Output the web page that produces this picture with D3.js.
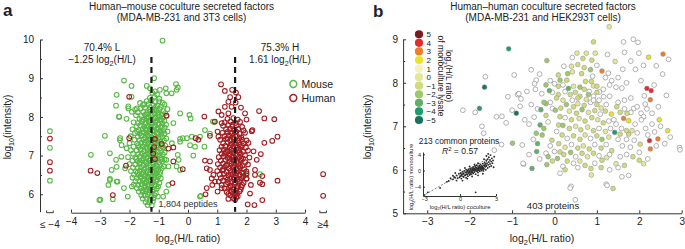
<!DOCTYPE html>
<html>
<head>
<meta charset="utf-8">
<script src="https://d3js.org/d3.v7.min.js"></script>
<style>
  body { margin: 0; background: #fff; }
  svg text { font-family: "Liberation Sans", Arial, sans-serif; fill: #222; }
  .axis path, .axis line { stroke: #333; stroke-width: 1; }
  .axis text { font-family: "Liberation Sans", Arial, sans-serif; font-size: 10px; fill: #222; }
  .inset .axis text { font-size: 5.5px; }
</style>
</head>
<body>
<div id="chart"></div>
<script>
// ---------- panel a : human-mouse coculture ----------
var titleA = ["Human\u2013mouse coculture secreted factors", "(MDA-MB-231 and 3T3 cells)"];
var xTicksA = [-4, -3, -2, -1, 0, 1, 2, 3, 4];
var yTicksA = [6, 7, 8, 9, 10];
var yMinorA = [6.5, 7.5, 8.5, 9.5];
var medians = [-1.25, 1.61];
var medianText = [["70.4% L", "\u22121.25 log", "(H/L)"], ["75.3% H", "1.61 log", "(H/L)"]];
var outLabels = ["\u2264 \u22124", "\u22654"];
var legendA = ["Mouse", "Human"];

// points outside the -4..4 range ("<= -4" and ">= 4" columns), intensity only
var mouseLow = [7.63, 7.20, 6.35];
var humanLow = [7.44, 6.83, 6.61];
var humanHigh = [6.52, 5.96];

// mouse peptides [log2(H/L), log10 intensity]
var mousePoints = [
  [-0.87,9.97],[-2.19,8.94],[-1.93,8.80],[-2.44,8.57],[-2.46,8.29],[-2.36,8.01],[-2.84,7.51],[-3.32,7.02],
  [-3.03,5.85],[-2.57,5.87],[-2.06,5.94],[-2.67,6.40],[-2.72,6.24],[-2.41,6.33],[-2.61,6.63],[-2.46,6.89],
  [-2.33,7.40],[-2.28,6.97],[-2.10,7.19],[-2.15,6.67],[-1.93,8.52],[-2.04,8.27],[-1.64,8.36],[-1.81,8.19],
  [-1.50,8.33],[-1.16,9.00],[-1.30,8.74],[-1.13,8.66],[-0.96,8.70],[-0.76,8.74],[-0.41,8.85],[-0.39,8.70],
  [-0.74,8.61],[-0.27,8.09],[-0.50,7.84],[-0.04,7.45],[-0.27,7.36],[-0.55,7.32],[-0.32,6.89],[-0.67,6.72],
  [-0.39,6.72],[-0.74,6.89],[-0.67,6.24],[-0.74,6.07],[-0.85,5.94],[0.05,8.05],[0.09,7.96],[0.13,7.49],
  [-0.18,7.45],[0.41,7.49],[0.24,7.23],[0.07,7.27],[-0.27,6.63],[0.58,7.66],[0.75,7.57],[0.85,7.88],
  [2.0,6.5],[0.41,5.94],[-0.35,8.76],[-0.27,7.43],[0.56,7.23],[-0.35,7.02],[0.18,7.0],[0.44,5.96],
  [0.9,7.87],[2.46,6.52],[-2.04,8.22],[-1.92,8.13],[-1.75,8.22],[-2.35,8.0],[-2.1,7.95],[-1.41,8.8],
  [-0.56,8.61],[-2.67,7.06],[-2.32,7.45],[-2.27,7.27],[-2.44,6.71],[-2.67,6.37],[-2.44,6.33],[-2.19,6.16],
  [-1.92,6.2],[-3.0,5.86],
  [-1.22,8.62],[-1.06,8.58],[-1.15,8.52],[-0.98,8.47],[-1.3,8.49],
  [-1.41,8.41],[-1.26,8.43],[-1.11,8.38],[-0.99,8.4],[-0.87,8.36],[-1.18,8.3],[-1.36,8.33],[-1.54,8.31],
  [-1.04,8.29],[-0.93,8.26],[-0.8,8.32],
  [-1.62,8.22],[-1.47,8.24],[-1.32,8.19],[-1.2,8.21],[-1.09,8.17],[-0.97,8.2],[-0.85,8.15],[-0.7,8.2],
  [-1.72,8.12],[-1.53,8.13],[-1.4,8.1],[-1.27,8.14],[-1.14,8.09],[-1.02,8.11],[-0.9,8.06],[-0.78,8.1],
  [-1.78,8.04],[-1.6,8.02],[-1.47,8.05],[-1.35,8.0],[-1.23,8.03],[-1.1,7.99],[-0.99,8.01],[-0.86,7.98],
  [-0.73,8.03],[-1.66,7.95],[-1.52,7.93],[-1.41,7.96],[-1.29,7.92],[-1.17,7.95],[-1.05,7.91],[-0.93,7.94],
  [-0.81,7.9],
  [-1.86,7.86],[-1.71,7.84],[-1.57,7.87],[-1.45,7.83],[-1.33,7.86],[-1.22,7.82],[-1.12,7.85],[-1.0,7.81],
  [-0.88,7.84],[-0.75,7.8],[-1.76,7.76],[-1.63,7.78],[-1.5,7.75],[-1.38,7.77],[-1.27,7.74],[-1.15,7.76],
  [-1.04,7.72],[-0.92,7.75],[-0.8,7.72],
  [-1.9,7.68],[-1.68,7.66],[-1.55,7.69],[-1.43,7.65],[-1.31,7.68],[-1.2,7.64],[-1.08,7.67],[-0.96,7.63],
  [-0.85,7.66],[-0.7,7.62],[-1.81,7.58],[-1.65,7.57],[-1.52,7.6],[-1.4,7.56],[-1.28,7.59],[-1.16,7.55],
  [-1.05,7.58],[-0.92,7.54],[-0.8,7.57],
  [-1.96,7.5],[-1.72,7.49],[-1.58,7.51],[-1.46,7.47],[-1.34,7.5],[-1.22,7.46],[-1.1,7.49],[-1.0,7.45],
  [-0.88,7.48],[-0.74,7.44],[-1.83,7.41],[-1.66,7.4],[-1.53,7.42],[-1.41,7.38],[-1.3,7.41],[-1.18,7.37],
  [-1.06,7.4],[-0.95,7.36],[-0.82,7.39],
  [-2.0,7.32],[-1.74,7.31],[-1.6,7.33],[-1.48,7.29],[-1.36,7.32],[-1.24,7.28],[-1.13,7.31],[-1.02,7.27],
  [-0.9,7.3],[-0.78,7.26],[-1.86,7.23],[-1.68,7.22],[-1.55,7.24],[-1.43,7.2],[-1.31,7.23],[-1.2,7.19],
  [-1.08,7.22],[-0.97,7.18],[-0.85,7.21],
  [-1.95,7.14],[-1.76,7.13],[-1.62,7.15],[-1.5,7.11],[-1.38,7.14],[-1.26,7.1],[-1.15,7.13],[-1.03,7.09],
  [-0.92,7.12],[-0.8,7.08],[-1.88,7.05],[-1.7,7.04],[-1.57,7.06],[-1.45,7.02],[-1.33,7.05],[-1.21,7.01],
  [-1.1,7.04],[-0.98,7.0],[-0.86,7.03],
  [-2.05,6.96],[-1.8,6.95],[-1.65,6.97],[-1.52,6.93],[-1.4,6.96],[-1.28,6.92],[-1.17,6.95],[-1.05,6.91],
  [-0.93,6.94],[-0.8,6.9],[-1.9,6.87],[-1.72,6.86],[-1.58,6.88],[-1.46,6.84],[-1.34,6.87],[-1.22,6.83],
  [-1.11,6.86],[-1.0,6.82],[-0.88,6.85],
  [-2.0,6.78],[-1.8,6.77],[-1.66,6.79],[-1.53,6.75],[-1.41,6.78],[-1.29,6.74],[-1.18,6.77],[-1.06,6.73],
  [-0.95,6.76],[-0.83,6.72],[-1.88,6.69],[-1.72,6.68],[-1.6,6.7],[-1.48,6.66],[-1.36,6.69],[-1.24,6.65],
  [-1.12,6.68],[-1.01,6.64],[-0.9,6.67],
  [-1.95,6.6],[-1.78,6.59],[-1.65,6.61],[-1.53,6.57],[-1.41,6.6],[-1.3,6.56],[-1.18,6.59],[-1.07,6.55],
  [-0.95,6.58],[-1.85,6.51],[-1.7,6.5],[-1.58,6.52],[-1.46,6.48],[-1.35,6.51],[-1.24,6.47],[-1.13,6.5],
  [-1.02,6.46],
  [-1.9,6.43],[-1.76,6.42],[-1.63,6.44],[-1.5,6.4],[-1.39,6.43],[-1.28,6.39],[-1.17,6.42],[-1.05,6.38],
  [-0.93,6.41],[-1.8,6.34],[-1.66,6.33],[-1.54,6.35],[-1.43,6.31],[-1.32,6.34],[-1.2,6.3],[-1.09,6.33],
  [-0.98,6.29],
  [-1.85,6.25],[-1.7,6.24],[-1.58,6.26],[-1.47,6.22],[-1.36,6.25],[-1.25,6.21],[-1.14,6.24],[-1.02,6.2],
  [-1.75,6.16],[-1.62,6.15],[-1.5,6.17],[-1.4,6.13],[-1.28,6.16],[-1.17,6.12],[-1.06,6.15],
  [-1.68,6.07],[-1.55,6.06],[-1.44,6.08],[-1.33,6.04],[-1.22,6.07],[-1.1,6.03],[-1.6,5.98],[-1.48,5.97],
  [-1.37,5.99],[-1.26,5.95],[-1.15,5.98],[-1.03,5.94],
  [-1.55,5.89],[-1.42,5.88],[-1.3,5.86],[-1.18,5.9],[-1.45,5.8],[-1.32,5.79],[-1.2,5.82],[-1.38,5.72],
  [-1.24,5.71],
  [-1.58,7.9],[-1.35,7.9],[-1.12,7.88],[-1.46,7.7],[-1.24,7.71],[-1.02,7.69],[-1.6,7.53],[-1.38,7.52],
  [-1.16,7.52],[-1.48,7.34],[-1.26,7.35],[-1.05,7.33],[-1.62,7.17],[-1.4,7.18],[-1.18,7.16],[-1.5,7.0],
  [-1.28,6.99],[-1.06,7.0],[-1.64,6.82],[-1.42,6.82],[-1.2,6.81],[-1.5,6.63],[-1.28,6.63],[-1.08,6.62],
  [-1.6,6.46],[-1.38,6.46],[-1.16,6.45],[-1.48,6.28],[-1.26,6.28],[-1.55,6.1],[-1.32,6.11],[-1.2,8.07],
  [-1.42,8.06],[-1.0,8.05],[-1.3,8.25],[-1.12,8.24],[-1.74,7.62],[-1.7,7.27],[-1.76,6.92],[-1.72,6.56],
  [-0.9,7.59],[-0.88,7.25],[-0.9,6.9],[-0.96,6.52],[-0.92,7.9]
];

// human peptides [log2(H/L), log10 intensity]
var humanPoints = [
  [1.13,8.84],[1.26,8.67],[1.51,8.70],[1.64,8.63],[1.44,8.51],[1.72,8.51],[1.38,8.39],[1.63,8.37],
  [1.26,8.26],[1.49,8.26],[1.81,8.24],[1.04,8.14],[1.15,8.05],[1.38,8.09],[1.95,8.09],[2.43,8.15],
  [2.61,7.96],[2.95,7.94],[0.56,8.01],[0.92,7.88],[0.75,7.51],[0.26,7.45],[0.35,7.41],[1.04,7.49],
  [2.2,7.66],[2.61,7.33],[2.88,7.38],[3.06,7.49],[2.49,7.04],[2.35,6.89],[0.58,6.87],[0.64,6.67],
  [0.75,6.85],[0.87,6.5],[0.92,6.33],[0.83,6.24],[0.64,6.16],[0.6,6.0],[2.29,6.5],[2.54,6.47],
  [2.46,6.30],[2.54,6.26],[3.06,6.35],[2.12,6.02],[2.04,5.74],[2.27,5.72],[2.54,5.85],[1.38,6.01],
  [1.67,6.01],[1.15,6.16],[1.83,6.19],[2.0,6.54],[1.15,7.84],[1.01,7.62],[2.0,7.93],[2.18,7.63],
  [2.07,7.33],[2.24,7.11],[2.29,6.63],[2.0,6.41],[2.15,6.24],[0.75,6.63],[0.81,6.41],[1.01,6.07],
  [1.49,6.07],[1.38,5.88],[1.61,5.86],
  [-2.01,8.52],[-0.74,8.03],[-2.01,7.45],[-1.13,7.43],[-0.9,7.3],[-1.16,7.22],[-0.67,7.18],[-0.5,7.21],
  [-1.19,7.05],[-1.13,6.91],[-0.5,6.85],[-2.12,6.74],[-0.18,6.65],[-3.33,6.61],[-3.1,6.55],[-0.53,6.29],
  [-2.57,5.98],
  [1.35,7.95],[1.55,7.97],[1.7,7.93],[1.25,7.86],[1.45,7.88],[1.62,7.84],[1.78,7.87],[1.2,7.77],
  [1.38,7.79],[1.52,7.75],[1.66,7.78],[1.85,7.74],[1.3,7.68],[1.44,7.7],[1.58,7.66],[1.72,7.69],
  [1.9,7.65],[1.18,7.59],[1.35,7.61],[1.5,7.57],[1.62,7.6],[1.76,7.56],[1.95,7.59],[1.25,7.5],
  [1.4,7.52],[1.54,7.48],[1.67,7.51],[1.82,7.47],[1.1,7.41],[1.3,7.43],[1.45,7.39],[1.58,7.42],
  [1.7,7.38],[1.85,7.41],[2.0,7.39],[1.2,7.32],[1.36,7.34],[1.5,7.3],[1.62,7.33],[1.75,7.29],
  [1.9,7.32],[1.15,7.23],[1.28,7.25],[1.42,7.21],[1.55,7.24],[1.67,7.2],[1.8,7.23],[1.98,7.21],
  [1.08,7.14],[1.22,7.16],[1.36,7.12],[1.49,7.15],[1.61,7.11],[1.73,7.14],[1.88,7.1],[2.05,7.13],
  [1.15,7.05],[1.3,7.07],[1.44,7.03],[1.56,7.06],[1.68,7.02],[1.8,7.05],[1.95,7.01],[1.05,6.96],
  [1.22,6.98],[1.36,6.94],[1.5,6.97],[1.62,6.93],[1.74,6.96],[1.88,6.92],[2.1,6.95],[1.12,6.87],
  [1.28,6.89],[1.42,6.85],[1.55,6.88],[1.67,6.84],[1.8,6.87],[1.96,6.83],[1.02,6.78],[1.2,6.8],
  [1.34,6.76],[1.48,6.79],[1.6,6.75],[1.72,6.78],[1.86,6.74],[2.05,6.77],[1.1,6.69],[1.26,6.71],
  [1.4,6.67],[1.53,6.7],[1.66,6.66],[1.78,6.69],[1.92,6.65],[1.0,6.6],[1.18,6.62],[1.32,6.58],
  [1.46,6.61],[1.58,6.57],[1.7,6.6],[1.84,6.56],[2.0,6.59],[1.08,6.51],[1.24,6.53],[1.38,6.49],
  [1.52,6.52],[1.64,6.48],[1.76,6.51],[1.9,6.47],[1.12,6.42],[1.3,6.44],[1.44,6.4],[1.57,6.43],
  [1.7,6.39],[1.83,6.42],[2.0,6.4],[1.05,6.33],[1.2,6.35],[1.36,6.31],[1.5,6.34],[1.62,6.3],
  [1.75,6.33],[1.9,6.29],[1.15,6.24],[1.3,6.26],[1.45,6.22],[1.58,6.25],[1.7,6.21],[1.85,6.24],
  [1.25,6.15],[1.4,6.17],[1.54,6.13],[1.66,6.16],[1.8,6.12],[1.32,6.06],[1.48,6.08],[1.62,6.04],
  [1.76,6.07],[1.45,5.97],[1.6,5.99],[1.7,5.95],[1.55,5.9],[1.65,5.92],
  [1.45,7.6],[1.65,7.62],[1.35,7.45],[1.55,7.44],[1.75,7.45],[1.45,7.27],[1.65,7.27],[1.85,7.26],
  [1.3,7.1],[1.55,7.09],[1.75,7.08],[1.42,6.92],[1.6,6.9],[1.82,6.91],[1.3,6.74],[1.55,6.73],
  [1.78,6.73],[1.45,6.55],[1.65,6.55],[1.88,6.55],[1.35,6.38],[1.58,6.38],[1.78,6.37],[1.45,6.2],
  [1.65,6.2],[1.55,6.03],[1.52,7.8],[1.4,7.0],[1.2,6.65],[1.25,7.05]
];

// ---------- panel b : human-human coculture ----------
var titleB = ["Human\u2013human coculture secreted factors", "(MDA-MB-231 and HEK293T cells)"];
var xTicksB = [-3, -2, -1, 0, 1, 2, 3];
var yTicksB = [5, 6, 7, 8, 9];
var yMinorB = [5.5, 6.5, 7.5, 8.5];
var legendValues = [5, 4, 3, 2, 1, 0, -1, -2, -3, -4, -5];
var legendColors = ["#7b1a1c", "#e42c2c", "#ef7e2c", "#ece22c", "#f5f1b8", "#e5e69c",
                    "#cfdc7c", "#9bca6a", "#62b066", "#1f9b6c", "#17735a"];

// proteins [log2(H/L) coculture, log10 intensity, log2(H/L) monoculture lysate or null]
var proteins = [
  [1.29,9.29,0],[0.92,8.94,-1],[-1.08,8.78,-4],[0.53,8.68,0],[0.75,8.68,0],[0.96,8.68,0],[-0.18,8.51,-2],
  [0.67,8.56,-1],[0.88,8.52,-1],[1.43,8.49,0],[2.22,8.59,2],[2.56,8.66,3],[1.12,8.27,3],[0.09,8.18,-1],
  [0.31,8.21,-2],[0.42,8.25,0],[0.64,8.21,-1],[0.73,8.03,-1],[0.87,8.03,-1],[0.92,7.93,0],[1.0,7.92,-1],
  [0.6,7.9,-2],[0.49,7.78,-1],[0.13,8.06,-2],[0.29,8.06,-1],[0.09,7.92,-1],[0.33,7.87,-3],[0.37,7.73,-1],
  [0.6,7.69,-1],[0.8,7.73,-2],[-0.12,7.82,-3],[0.09,7.73,-1],[-1.65,7.90,-5],[-1.77,7.41,-4],[-0.9,7.30,-5],
  [-0.32,7.38,-3],[0.02,7.37,-2],[0.13,7.22,-1],[1.47,7.45,-1],[1.71,7.3,-1],[2.18,7.87,4],[2.28,7.82,4],
  [2.26,7.61,3],[2.47,7.15,2],[2.67,6.90,2],[2.44,6.71,3],[2.24,6.67,4],[2.26,6.48,3],[1.34,7.28,2],
  [1.63,7.18,3],[1.75,7.13,2],[1.42,6.86,-4],[1.75,6.82,-1],[1.83,6.90,0],[2.02,6.59,-1],[2.0,6.22,-1],
  [2.1,6.14,0],[1.23,6.28,0],[1.35,6.44,-1],[1.45,6.14,0],[1.12,6.22,-1],[0.86,6.03,-1],[0.87,5.88,0],
  [1.38,5.57,-1],[-0.99,6.61,-2],[-0.53,6.03,-3],[-0.43,6.84,-2],[-0.34,7.03,-3],[-0.2,7.52,-2],
  [0.1,7.03,-1],[-0.06,6.68,-1],[0.07,6.26,-2],[0.13,6.41,-1],[-0.42,6.42,-3],[-0.18,6.12,-2],
  [-0.29,6.8,-2],[0.25,6.0,-1],
  [1.63,8.94,null],[1.86,9.0,null],[1.97,8.93,null],[1.99,8.68,null],[2.69,8.54,null],[2.4,8.39,null],
  [1.91,8.31,null],[1.61,8.31,null],[0.42,8.58,null],[-1.63,8.14,null],[-0.95,8.18,null],[-0.43,8.06,null],
  [-0.47,7.98,null],[-1.1,7.68,null],[-0.87,7.73,null],[-0.79,7.63,null],[-1.0,7.37,null],[-2.16,7.37,null],
  [-1.87,7.32,null],[-1.37,7.22,null],[-1.24,7.23,null],[-0.48,7.21,null],[-0.05,7.41,null],[0.42,7.6,null],
  [0.92,7.69,null],[1.06,7.79,null],[1.3,7.69,null],[2.04,8.05,null],[2.12,7.7,null],[2.64,7.71,null],
  [1.87,7.41,null],[2.04,7.3,null],[1.27,8.22,null],[1.59,7.88,null],[2.14,7.51,null],[2.18,7.4,null],
  [2.1,7.22,null],[2.36,6.87,null],[2.73,6.75,null],[2.95,6.51,null],[1.88,6.68,null],[1.79,6.52,null],
  [1.75,5.87,null],[1.22,5.67,null],[0.39,5.62,null],[1.16,7.68,null],[-1.71,7.0,null],[-1.67,6.84,null],
  [-0.84,7.75,null],[-0.81,7.46,null],[-1.14,7.08,null],[-0.73,6.13,null],[-1.25,6.58,null],
  [-1.42,6.45,null],[-0.74,6.15,null],[-0.76,6.57,null],[0.13,5.92,null],[0.37,5.58,null],[0.49,5.31,null],
  [1.24,5.64,null],[1.59,5.84,null],[2.96,6.46,null],
  [0.05,7.65,-1],[0.2,7.6,0],[0.28,7.5,-2],[0.45,7.45,-1],[0.55,7.52,0],[0.7,7.48,-1],[0.85,7.55,null],
  [1.0,7.5,-1],[1.1,7.42,0],[1.22,7.5,null],[-0.1,7.55,null],[0.15,7.42,-1],[0.35,7.35,0],[0.52,7.3,-1],
  [0.65,7.38,-2],[0.8,7.32,0],[0.95,7.36,-1],[1.08,7.28,null],[1.2,7.35,-1],[-0.2,7.25,-1],[0.25,7.2,null],
  [0.4,7.15,-1],[0.58,7.18,0],[0.72,7.12,-1],[0.88,7.2,-1],[1.02,7.15,0],[1.15,7.08,-1],[1.28,7.12,null],
  [1.45,7.05,null],[-0.15,7.1,null],[0.2,7.02,-2],[0.35,6.95,-1],[0.5,7.0,0],[0.62,6.92,-1],[0.78,6.98,0],
  [0.92,6.9,-1],[1.05,6.95,null],[1.2,6.88,0],[1.32,6.95,null],[-0.25,6.95,-2],[0.05,6.88,null],
  [0.18,6.8,-1],[0.3,6.72,null],[0.45,6.78,-1],[0.6,6.7,-1],[0.72,6.8,0],[0.85,6.72,null],[1.0,6.78,-1],
  [1.12,6.7,-2],[1.28,6.75,0],[1.5,6.7,null],[1.6,6.55,null],[-0.1,6.55,null],[0.1,6.6,-1],[0.25,6.52,0],
  [0.4,6.58,null],[0.55,6.5,-1],[0.68,6.55,0],[0.82,6.48,-1],[0.95,6.58,null],[1.1,6.5,-1],[1.22,6.58,null],
  [-0.2,6.38,null],[0.0,6.42,null],[0.22,6.35,-1],[0.38,6.4,-2],[0.5,6.3,null],[0.65,6.38,-1],[0.78,6.3,0],
  [0.92,6.38,-1],[1.05,6.32,null],[1.3,6.35,null],[0.3,6.2,-1],[0.45,6.15,null],[0.6,6.2,0],[0.72,6.1,-1],
  [0.95,6.15,null],[1.55,6.3,null],[0.55,6.05,null],[0.2,6.08,null],
  [0.0,7.98,null],[0.2,7.95,null],[0.45,7.92,0],[0.7,7.85,-1],[0.82,7.8,null],[1.0,7.78,-1],[1.15,7.85,null],
  [0.25,7.8,null],[-0.05,7.78,null],[0.55,7.65,-1],[0.75,7.62,0],[0.92,7.6,null],[1.05,7.6,null],
  [0.4,8.38,0],[0.55,8.42,-1],[0.7,8.35,-1],[0.22,8.38,null],[0.85,8.3,-2],[1.0,8.4,null],[0.9,8.15,null],
  [1.2,8.12,null],[1.35,8.05,null],[1.5,8.12,null],[1.7,8.0,null],[1.45,7.9,null],[1.3,7.95,null],
  [1.5,7.55,null],[1.65,7.6,null],[1.8,7.65,null],[1.65,7.4,null],[1.55,7.32,-1],[1.8,7.32,null],
  [1.95,7.45,null],[1.4,7.15,null],[1.9,7.05,null],[2.05,7.15,null],[1.58,6.95,null],[1.7,6.9,-1],
  [1.95,6.85,null],[2.15,6.95,null],[1.55,6.82,-1],[1.7,6.7,null],[2.2,6.8,null],[2.3,7.05,null],
  [2.5,7.0,null],[2.4,6.55,null],[2.6,6.6,null],[2.0,6.4,null],[1.85,6.3,-1],[1.7,6.35,null],
  [1.5,6.05,null],[1.65,6.1,-1],[1.3,6.0,null],[1.1,6.05,-1],[2.2,6.25,null],[2.3,7.3,null],
  [2.45,7.45,null],[2.35,7.95,null],[2.55,8.2,null],[2.1,8.4,null],[1.8,8.5,null],[1.65,8.7,null],
  [1.25,8.65,null],
  [-0.3,7.75,null],[-0.25,7.55,-2],[-0.4,7.4,null],[-0.55,7.5,null],[-0.6,7.05,null],[-0.4,6.6,-3],
  [-0.5,6.7,null],[-0.35,6.25,null],[-0.15,6.3,-2],[-0.05,6.2,-1],[-0.6,6.35,null],[-0.45,7.85,null],
  [-0.65,7.8,null],[-0.2,7.95,-2],[-0.35,8.2,null],[-0.1,8.05,null],[-0.55,8.3,null],[-0.7,7.15,null]
];

// inset: 213 common proteins [coculture, monoculture]
var insetTicks = [-3, 0, 3];
var insetYTicks = [-4, 0, 4];
var insetFit = [[-2.9, -5.9], [2.4, 3.1]];
var common = [
  [-2.7,-5.4],[-1.67,-4.3],[-1.1,-2.8],[-0.95,-2.6],[1.3,-5.4],[-0.6,-2.2],[-0.4,-1.8],[-0.3,-2.5],
  [-0.5,-1.6],[-0.3,-1.2],[-0.2,-1.9],[-0.1,-0.8],[0.0,-1.4],[0.05,-0.6],[0.1,-2.0],[0.15,-1.0],
  [0.2,-0.3],[0.25,-1.5],[0.3,-0.8],[0.35,-0.1],[0.4,-1.2],[0.45,-0.5],[0.5,-1.8],[0.5,0.2],
  [0.55,-0.9],[0.6,-0.3],[0.65,-1.4],[0.7,0.3],[0.7,-0.7],[0.75,-0.1],[0.8,-1.1],[0.85,0.5],
  [0.9,-0.4],[0.9,0.1],[0.95,-0.9],[1.0,0.6],[1.0,-0.2],[1.05,0.2],[1.1,-0.7],[1.1,0.9],
  [1.15,0.0],[1.2,0.5],[1.2,-0.4],[1.25,1.1],[1.3,0.2],[1.3,-0.9],[1.35,0.7],[1.4,-0.2],
  [1.4,1.3],[1.45,0.4],[1.5,0.9],[1.5,-0.5],[1.55,0.1],[1.6,1.2],[1.6,0.6],[1.65,-0.2],
  [1.7,1.5],[1.7,0.3],[1.75,0.9],[1.8,0.0],[1.8,1.2],[1.85,0.5],[1.9,1.7],[1.9,0.8],
  [1.95,-0.1],[2.0,1.3],[2.0,0.4],[2.05,2.0],[2.1,0.9],[2.1,1.6],[2.15,0.2],[2.2,2.4],
  [2.2,1.1],[2.25,1.8],[2.3,0.6],[2.3,2.8],[2.35,1.4],[2.4,2.1],[2.4,3.3],[2.45,0.9],
  [2.5,2.6],[2.5,1.6],[2.55,3.8],[2.6,2.2],[2.6,1.1],[2.65,3.0],[2.7,1.8],[2.75,2.5],
  [2.8,0.8],[2.85,3.4],[2.2,3.6],[2.35,4.1],[2.0,2.8],[1.5,1.8],[1.2,1.5],[0.8,1.0],
  [0.4,0.6],[0.0,0.1],[-0.4,-0.6],[0.2,-2.5],[0.6,-2.0],[1.0,-1.5],[1.5,-1.2],[1.9,-0.8],
  [0.3,-1.6],[0.45,-1.1],[0.6,-1.0],[0.75,-0.5],[0.85,-0.8],[0.95,-0.3],[1.05,-0.5],[1.15,0.3],
  [1.25,-0.1],[1.35,0.4],[1.45,0.0],[1.55,0.6],[1.65,0.9],[1.75,0.4],[1.85,1.0],[1.95,0.6],
  [2.05,1.1],[2.15,1.4],[0.55,-0.4],[0.65,0.0],[0.8,-0.2],[0.9,0.4],[1.0,0.1],[1.1,0.5],
  [1.2,0.2],[1.3,0.8],[1.4,0.5],[1.5,0.3],[1.6,0.1],[1.7,0.7],[1.8,0.6],[1.9,0.3],
  [0.1,-1.3],[0.2,-0.9],[-0.05,-1.7],[-0.6,-1.3],[-0.8,-1.9]
];

var green = "#59b847", red = "#a11d22";
var lowPos = -4.72, highPos = 4.62;   // scale positions of the out-of-range columns
var intFmt = d3.format("d");

document.addEventListener('DOMContentLoaded', function () {

var svg = d3.select("#chart")
  .append("svg")
    .attr("width", 685)
    .attr("height", 249);

// writes "log" + subscript + rest into a text element
function logText(t, sub, rest, fs) {
  t.append("tspan").text("log");
  t.append("tspan").attr("dy", fs * 0.3).style("font-size", (fs * 0.72) + "px").text(sub);
  t.append("tspan").attr("dy", -fs * 0.3).text(rest);
}

// ===================== panel a =====================
var xA = d3.scaleLinear().domain([-4, 4]).range([71, 305]);
var yA = d3.scaleLinear().domain([5.55, 10]).range([211.7, 39.5]);

svg.append("text").attr("x", 3).attr("y", 16)
  .style("font-size", "17px").style("font-weight", "bold").text("a");

svg.selectAll("titleA")
  .data(titleA)
  .join("text")
    .attr("x", 181.5)
    .attr("y", function(d, i) { return 9.5 + i * 11; })
    .attr("text-anchor", "middle")
    .style("font-size", "10px")
    .text(function(d) { return d; });

svg.append("g")
  .attr("class", "axis")
  .attr("transform", "translate(40,0)")
  .call(d3.axisLeft(yA).tickValues(yTicksA).tickFormat(intFmt).tickSize(-3).tickSizeOuter(0).tickPadding(6));
svg.append("g")
  .attr("class", "axis")
  .attr("transform", "translate(40,0)")
  .call(d3.axisLeft(yA).tickValues(yMinorA).tickSize(-2).tickFormat(""))
  .call(function(g) { g.select(".domain").remove(); });

svg.append("g")
  .attr("class", "axis")
  .attr("transform", "translate(0,212.7)")
  .call(d3.axisBottom(xA).tickValues(xTicksA).tickFormat(intFmt).tickSize(-3).tickSizeOuter(0).tickPadding(5));

// brackets for the out-of-range columns
[lowPos, highPos].forEach(function(p, i) {
  var cx = xA(p);
  svg.append("path")
    .attr("d", "M" + (cx - 3.3) + ",210.5V212.7H" + (cx + 3.3) + "V210.5")
    .attr("fill", "none").attr("stroke", "#333");
  svg.append("text")
    .attr("x", cx).attr("y", 227.5)
    .attr("text-anchor", "middle")
    .style("font-size", "10px")
    .text(outLabels[i]);
});

var yt = svg.append("text")
  .attr("transform", "translate(10.5,127) rotate(-90)")
  .attr("text-anchor", "middle")
  .style("font-size", "10px");
logText(yt, "10", "(intensity)", 10);

var xt = svg.append("text")
  .attr("x", 188).attr("y", 242)
  .attr("text-anchor", "middle")
  .style("font-size", "10.5px");
logText(xt, "2", "(H/L ratio)", 10.5);

// scatter
var rA = 2.35, swA = 1.05;
var dotsA = svg.append("g");
dotsA.selectAll("mouse")
  .data(mousePoints)
  .join("circle")
    .attr("cx", function(d) { return xA(d[0]); })
    .attr("cy", function(d) { return yA(d[1]); })
    .attr("r", rA)
    .attr("fill", "none")
    .attr("stroke", green)
    .attr("stroke-width", swA);
dotsA.selectAll("mouseLow")
  .data(mouseLow)
  .join("circle")
    .attr("cx", xA(lowPos))
    .attr("cy", function(d) { return yA(d); })
    .attr("r", rA).attr("fill", "none").attr("stroke", green).attr("stroke-width", swA);
dotsA.selectAll("human")
  .data(humanPoints)
  .join("circle")
    .attr("cx", function(d) { return xA(d[0]); })
    .attr("cy", function(d) { return yA(d[1]); })
    .attr("r", rA)
    .attr("fill", "none")
    .attr("stroke", red)
    .attr("stroke-width", swA);
dotsA.selectAll("humanLow")
  .data(humanLow)
  .join("circle")
    .attr("cx", xA(lowPos))
    .attr("cy", function(d) { return yA(d); })
    .attr("r", rA).attr("fill", "none").attr("stroke", red).attr("stroke-width", swA);
dotsA.selectAll("humanHigh")
  .data(humanHigh)
  .join("circle")
    .attr("cx", xA(highPos))
    .attr("cy", function(d) { return yA(d); })
    .attr("r", rA).attr("fill", "none").attr("stroke", red).attr("stroke-width", swA);

// median lines
svg.selectAll("median")
  .data(medians)
  .join("line")
    .attr("x1", function(d) { return xA(d); })
    .attr("x2", function(d) { return xA(d); })
    .attr("y1", yA(9.55))
    .attr("y2", yA(5.55))
    .attr("stroke", "#1a1a1a")
    .attr("stroke-width", 2.2)
    .attr("stroke-dasharray", "6,4");

medianText.forEach(function(m, i) {
  var cx = i === 0 ? 102 : 280;
  svg.append("text").attr("x", cx).attr("y", 51).attr("text-anchor", "middle")
    .style("font-size", "10px").text(m[0]);
  var t = svg.append("text").attr("x", cx).attr("y", 63).attr("text-anchor", "middle")
    .style("font-size", "10px");
  t.append("tspan").text(m[1]);
  t.append("tspan").attr("dy", 3).style("font-size", "7.2px").text("2");
  t.append("tspan").attr("dy", -3).text(m[2]);
});

// legend
var size = 14;
svg.selectAll("legA")
  .data(legendA)
  .join("circle")
    .attr("cx", 293.3)
    .attr("cy", function(d, i) { return 84 + i * size; })
    .attr("r", 3.4)
    .attr("fill", "none")
    .attr("stroke", function(d, i) { return i === 0 ? green : red; })
    .attr("stroke-width", 1.5);
svg.selectAll("legAText")
  .data(legendA)
  .join("text")
    .attr("x", 301.5)
    .attr("y", function(d, i) { return 88 + i * size; })
    .style("font-size", "10.5px")
    .text(function(d) { return d; });

svg.append("text").attr("x", 188).attr("y", 206.5).attr("text-anchor", "middle")
  .style("font-size", "9px").style("fill", "#333").text("1,804 peptides");

// ===================== panel b =====================
var xB = d3.scaleLinear().domain([-3.57, 3]).range([403.1, 681.7]);
var yB = d3.scaleLinear().domain([5, 9]).range([213.3, 39.3]);
var color = d3.scaleOrdinal().domain(legendValues).range(legendColors);

svg.append("text").attr("x", 373).attr("y", 17)
  .style("font-size", "17px").style("font-weight", "bold").text("b");

svg.selectAll("titleB")
  .data(titleB)
  .join("text")
    .attr("x", 543)
    .attr("y", function(d, i) { return 9.5 + i * 11; })
    .attr("text-anchor", "middle")
    .style("font-size", "10px")
    .text(function(d) { return d; });

svg.append("g")
  .attr("class", "axis")
  .attr("transform", "translate(403.1,0)")
  .call(d3.axisLeft(yB).tickValues(yTicksB).tickFormat(intFmt).tickSize(-3).tickSizeOuter(0).tickPadding(5));
svg.append("g")
  .attr("class", "axis")
  .attr("transform", "translate(403.1,0)")
  .call(d3.axisLeft(yB).tickValues(yMinorB).tickSize(-2).tickFormat(""))
  .call(function(g) { g.select(".domain").remove(); });
svg.append("g")
  .attr("class", "axis")
  .attr("transform", "translate(0,213.3)")
  .call(d3.axisBottom(xB).tickValues(xTicksB).tickFormat(intFmt).tickSize(-3).tickSizeOuter(0).tickPadding(5));

var ytb = svg.append("text")
  .attr("transform", "translate(370.5,127) rotate(-90)")
  .attr("text-anchor", "middle")
  .style("font-size", "10px");
logText(ytb, "10", "(intensity)", 10);

var xtb = svg.append("text")
  .attr("x", 542).attr("y", 242)
  .attr("text-anchor", "middle")
  .style("font-size", "10.5px");
logText(xtb, "2", "(H/L ratio)", 10.5);

// proteins: gray open first, then coloured
var rB = 2.4;
var dotsB = svg.append("g");
dotsB.selectAll("grayP")
  .data(proteins.filter(function(d) { return d[2] === null; }))
  .join("circle")
    .attr("cx", function(d) { return xB(d[0]); })
    .attr("cy", function(d) { return yB(d[1]); })
    .attr("r", rB)
    .attr("fill", "#fff")
    .attr("stroke", "#8a8a8a")
    .attr("stroke-width", 0.65);
dotsB.selectAll("colP")
  .data(proteins.filter(function(d) { return d[2] !== null; }))
  .join("circle")
    .attr("cx", function(d) { return xB(d[0]); })
    .attr("cy", function(d) { return yB(d[1]); })
    .attr("r", rB)
    .attr("fill", function(d) { return color(d[2]); })
    .attr("stroke", "#8a8a8a")
    .attr("stroke-width", 0.5);

// colour legend
var yLeg = d3.scalePoint().domain(legendValues).range([34.3, 120]);
svg.selectAll("legB")
  .data(legendValues)
  .join("circle")
    .attr("cx", 419)
    .attr("cy", function(d) { return yLeg(d); })
    .attr("r", 4.1)
    .attr("fill", function(d) { return color(d); });
svg.selectAll("legBText")
  .data(legendValues)
  .join("text")
    .attr("x", 426.5)
    .attr("y", function(d) { return yLeg(d) + 3; })
    .style("font-size", "8px")
    .text(function(d) { return d < 0 ? "\u2212" + (-d) : d; });

var lt1 = svg.append("text")
  .attr("transform", "translate(445.5,76) rotate(90)")
  .attr("text-anchor", "middle")
  .style("font-size", "8.5px");
logText(lt1, "2", "(H/L ratio)", 8.5);
svg.append("text")
  .attr("transform", "translate(437.5,76) rotate(90)")
  .attr("text-anchor", "middle")
  .style("font-size", "8.5px")
  .text("of monoculture lysate");

svg.append("text").attr("x", 553).attr("y", 208.5).attr("text-anchor", "middle")
  .style("font-size", "9.5px").text("403 proteins");

// ---------- inset ----------
var xI = d3.scaleLinear().domain([-3.1, 3]).range([423, 496]);
var yI = d3.scaleLinear().domain([-6.3, 4.57]).range([196, 152]);
var inset = svg.append("g").attr("class", "inset");

inset.append("g")
  .attr("class", "axis")
  .attr("transform", "translate(423,0)")
  .call(d3.axisLeft(yI).tickValues(insetYTicks).tickFormat(intFmt).tickSize(-2).tickSizeOuter(0).tickPadding(2));
inset.append("g")
  .attr("class", "axis")
  .attr("transform", "translate(0,196)")
  .call(d3.axisBottom(xI).tickValues(insetTicks).tickFormat(intFmt).tickSize(-2).tickSizeOuter(0).tickPadding(1));

inset.append("line")
  .attr("x1", xI(insetFit[0][0])).attr("y1", yI(insetFit[0][1]))
  .attr("x2", xI(insetFit[1][0])).attr("y2", yI(insetFit[1][1]))
  .attr("stroke", "#444").attr("stroke-width", 0.7).attr("stroke-dasharray", "2,1.6");

inset.selectAll("common")
  .data(common)
  .join("circle")
    .attr("cx", function(d) { return xI(d[0]); })
    .attr("cy", function(d) { return yI(d[1]); })
    .attr("r", 0.95)
    .attr("fill", "#2e2e2e");

var ix = inset.append("text").attr("x", 460).attr("y", 208.5)
  .attr("text-anchor", "middle").style("font-size", "5.8px");
logText(ix, "2", "(H/L ratio) coculture", 5.8);
var iy = inset.append("text").attr("transform", "translate(413,177) rotate(-90)")
  .attr("text-anchor", "middle").style("font-size", "5.6px");
logText(iy, "2", "(H/L ratio) monoculture", 5.6);

svg.append("text").attr("x", 459).attr("y", 143.5).attr("text-anchor", "middle")
  .style("font-size", "8.4px").text("213 common proteins");
var r2 = svg.append("text").attr("x", 460).attr("y", 153.5).attr("text-anchor", "middle")
  .style("font-size", "8.6px");
r2.append("tspan").style("font-style", "italic").text("R");
r2.append("tspan").attr("dy", -3).style("font-size", "5.8px").text("2");
r2.append("tspan").attr("dy", 3).text(" = 0.57");

});
</script>
</body>
</html>
